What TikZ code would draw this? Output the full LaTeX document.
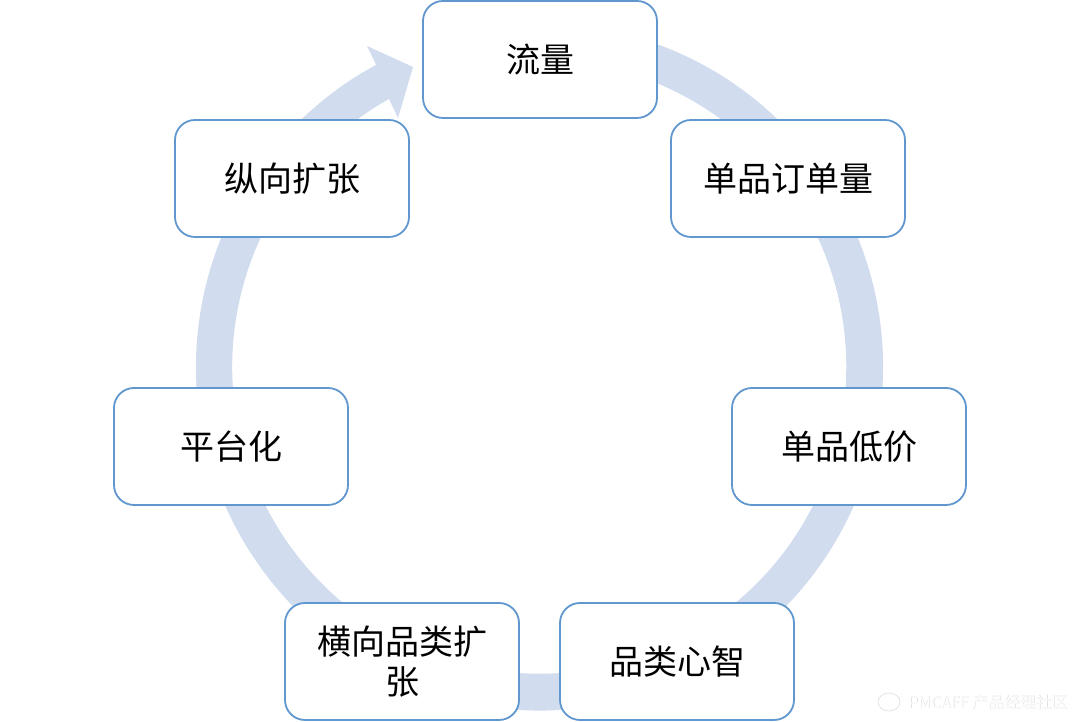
\documentclass[tikz,border=0pt]{standalone}
\usepackage{fontspec}
\setmainfont{Noto Sans CJK SC}
\usetikzlibrary{positioning}

\definecolor{ringblue}{HTML}{D1DCEF}
\definecolor{boxblue}{HTML}{5F97CE}

\begin{document}
\begin{tikzpicture}
 [ x=1pt
 , y=1pt
 , stage/.style={draw=boxblue, line width=1.8pt, fill=white, rounded corners=20pt, minimum width=234pt, minimum height=117pt, inner sep=0pt, align=center, font=\fontsize{34pt}{40pt}\selectfont}
 , ring/.style={fill=ringblue, draw=none}
 , mark top/.style={text=white, font=\fontsize{15.9pt}{18pt}\selectfont, inner sep=0pt}
 , mark under/.style={mark top, text=black!14}
 ]
  \useasboundingbox (0,0) rectangle (1080,722);

  % the big arrow goes round behind the boxes
  \fill [ring, shift={(539.5,355)}]
    (80:343.5) arc [start angle=80, end angle=-241.6, radius=343.5pt]
    -- (-172.5,321) -- (-126.5,300) -- (-141.5,249) -- (-150.5,268)
    arc [start angle=-240.7, end angle=80, radius=307pt]
    -- cycle;

  \node [stage] (flow) at (540,662.5) {流量};
  \node [stage] (orders) at (788,543.5) {单品订单量};
  \node [stage] (price) at (849,275.5) {单品低价};
  \node [stage] (mind) at (677,60.5) {品类心智};
  \node [stage] (wide) at (402,60.5) {横向品类扩\\张};
  \node [stage] (platform) at (231,275.5) {平台化};
  \node [stage] (deep) at (292,543.5) {纵向扩张};

  % watermark
  \node [mark under, anchor=west] (markshadow) at (908.6,19.4) {PMCAFF 产品经理社区};
  \node [mark top, anchor=west] (marktext) at (908,20) {PMCAFF 产品经理社区};
  \draw [black!12, fill=white, line width=0.7pt] (889,20) ellipse [x radius=11pt, y radius=9pt];
\end{tikzpicture}
\end{document}
